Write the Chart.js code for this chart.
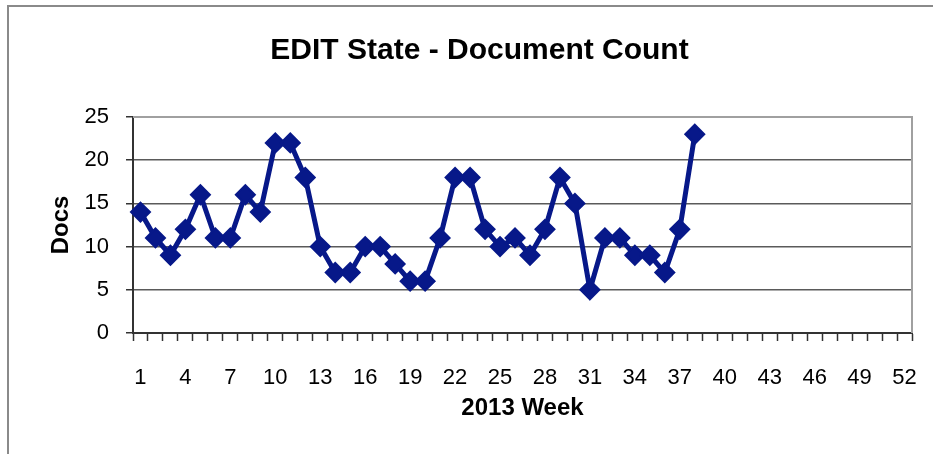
<!DOCTYPE html>
<html>
<head>
<meta charset="utf-8">
<title>EDIT State - Document Count</title>
<script src="https://cdn.jsdelivr.net/npm/chart.js@4.4.0/dist/chart.umd.min.js"></script>
<style>
    html, body { margin: 0; padding: 0; background: #fff; overflow: hidden; }
    #wrap { position: relative; width: 933px; height: 454px; }
    #frame {
        position: absolute; left: 7px; top: 5px; right: -10px; bottom: -10px;
        border: 2px solid #8a8a8a;
    }
    canvas { position: absolute; left: 0; top: 0; }
</style>
</head>
<body>
<div id="wrap">
    <div id="frame"></div>
    <canvas id="docs-chart" width="933" height="454"></canvas>
</div>
<script>
    "use strict";

    // Chart data
    var weeks = [1, 2, 3, 4, 5, 6, 7, 8, 9, 10, 11, 12, 13, 14, 15, 16, 17, 18, 19, 20,
        21, 22, 23, 24, 25, 26, 27, 28, 29, 30, 31, 32, 33, 34, 35, 36, 37, 38, 39, 40,
        41, 42, 43, 44, 45, 46, 47, 48, 49, 50, 51, 52];
    var docCounts = [14, 11, 9, 12, 16, 11, 11, 16, 14, 22, 22, 18, 10, 7, 7, 10, 10, 8, 6, 6,
        11, 18, 18, 12, 10, 11, 9, 12, 18, 15, 5, 11, 11, 9, 9, 7, 12, 23];
    var yTicks = [0, 5, 10, 15, 20, 25];

    var navy = "#071889";
    var fontFamily = "'Liberation Sans', Arial, sans-serif";

    // Plot area frame (top and right edges)
    var plotFrame = {
        id: "plotFrame",
        afterDraw: function (chart) {
            var a = chart.chartArea;
            var ctx = chart.ctx;
            ctx.save();
            ctx.strokeStyle = "#a0a0a0";
            ctx.lineWidth = 2;
            ctx.beginPath();
            ctx.moveTo(a.left, a.top);
            ctx.lineTo(a.right, a.top);
            ctx.lineTo(a.right, a.bottom);
            ctx.stroke();
            ctx.restore();
        }
    };

    var ctx = document.getElementById("docs-chart").getContext("2d");
    var myChart = new Chart(ctx, {
        type: "line",
        data: {
            labels: weeks,
            datasets: [{
                label: "Docs",
                data: docCounts,
                borderColor: navy,
                backgroundColor: navy,
                borderWidth: 5,
                pointStyle: "rectRot",
                pointRadius: 9.5,
                pointBorderWidth: 2,
                pointBackgroundColor: navy,
                pointBorderColor: navy,
                tension: 0,
                fill: false
            }]
        },
        options: {
            responsive: false,
            animation: false,
            layout: {
                padding: { left: 47, right: 21, top: 0, bottom: 31 }
            },
            plugins: {
                legend: { display: false },
                tooltip: { enabled: false },
                title: {
                    display: true,
                    text: "EDIT State - Document Count",
                    color: "#000",
                    font: { family: fontFamily, size: 30, weight: "bold" },
                    padding: { top: 33, bottom: 48 }
                }
            },
            scales: {
                x: {
                    offset: true,
                    afterFit: function (scale) {
                        scale.height = 90;
                        scale.paddingLeft = 0;
                        scale.paddingRight = 0;
                    },
                    grid: {
                        offset: true,
                        drawOnChartArea: false,
                        drawTicks: true,
                        tickLength: 8,
                        tickColor: "#333",
                        tickWidth: 1.5
                    },
                    border: { color: "#333", width: 2 },
                    ticks: {
                        autoSkip: false,
                        maxRotation: 0,
                        padding: 24,
                        color: "#000",
                        font: { family: fontFamily, size: 22 },
                        callback: function (value, index) {
                            return index % 3 === 0 ? String(weeks[index]) : "";
                        }
                    },
                    title: {
                        display: true,
                        text: "2013 Week",
                        color: "#000",
                        font: { family: fontFamily, size: 24, weight: "bold" },
                        padding: 0
                    }
                },
                y: {
                    min: yTicks[0],
                    max: yTicks[yTicks.length - 1],
                    afterFit: function (scale) { scale.width = 86; },
                    afterBuildTicks: function (scale) {
                        scale.ticks = yTicks.map(function (v) { return { value: v }; });
                    },
                    grid: {
                        color: function (c) {
                            return c.tick && c.tick.value === 25 ? "#a0a0a0" : "#5a5a5a";
                        },
                        lineWidth: 1.5,
                        tickLength: 7,
                        tickColor: "#333",
                        tickWidth: 1.5
                    },
                    border: { color: "#333", width: 2 },
                    ticks: {
                        padding: 17,
                        color: "#000",
                        font: { family: fontFamily, size: 22 }
                    },
                    title: {
                        display: true,
                        text: "Docs",
                        color: "#000",
                        font: { family: fontFamily, size: 24, weight: "bold" },
                        padding: 0
                    }
                }
            }
        },
        plugins: [plotFrame]
    });
</script>
</body>
</html>
